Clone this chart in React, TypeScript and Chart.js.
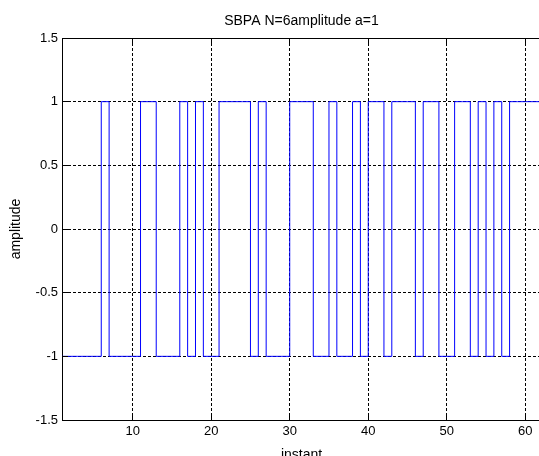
import React, { useEffect, useRef } from "react";
import { Chart, registerables } from "chart.js";

Chart.register(...registerables);

// ---- data ----
const instants = [
  1, 2, 3, 4, 5, 6, 7, 8, 9, 10,
  11, 12, 13, 14, 15, 16, 17, 18, 19, 20,
  21, 22, 23, 24, 25, 26, 27, 28, 29, 30,
  31, 32, 33, 34, 35, 36, 37, 38, 39, 40,
  41, 42, 43, 44, 45, 46, 47, 48, 49, 50,
  51, 52, 53, 54, 55, 56, 57, 58, 59, 60,
  61, 62, 63,
];

const amplitude = [
  -1, -1, -1, -1, -1, 1, -1, -1, -1, -1,
  1, 1, -1, -1, -1, 1, -1, 1, -1, -1,
  1, 1, 1, 1, -1, 1, -1, -1, -1, 1,
  1, 1, -1, -1, 1, -1, -1, 1, -1, 1,
  1, -1, 1, 1, 1, -1, 1, 1, -1, -1,
  1, 1, -1, 1, -1, 1, -1, 1, 1, 1,
  1, 1, 1,
];

const xTickValues = [10, 20, 30, 40, 50, 60];
const yTickValues = [-1.5, -1, -0.5, 0, 0.5, 1, 1.5];
const xRange = [1, 62];
const yRange = [-1.5, 1.5];

const titleText = "SBPA N=6amplitude a=1";
const xLabel = "instant";
const yLabel = "amplitude";

const FONT = "'Liberation Sans', Arial, Helvetica, sans-serif";

const align = (p: number) => Math.round(p - 0.5) + 0.5;

const innerTicks = {
  id: "innerTicks",
  afterDatasetsDraw(chart: any) {
    const { ctx, chartArea: a, scales } = chart;
    const len = 6;
    ctx.save();
    ctx.strokeStyle = "#000";
    ctx.lineWidth = 1;
    ctx.setLineDash([]);
    ctx.beginPath();
    for (const v of xTickValues) {
      const px = align(scales.x.getPixelForValue(v));
      ctx.moveTo(px, a.bottom);
      ctx.lineTo(px, a.bottom - len);
      ctx.moveTo(px, a.top);
      ctx.lineTo(px, a.top + len);
    }
    for (const v of yTickValues) {
      const py = align(scales.y.getPixelForValue(v));
      ctx.moveTo(a.left, py);
      ctx.lineTo(a.left + len, py);
    }
    ctx.stroke();
    ctx.restore();
  },
};

export default function App() {
  const ref = useRef<HTMLCanvasElement | null>(null);

  useEffect(() => {
    if (!ref.current) return;
    const chart = new Chart(ref.current, {
      type: "line",
      data: {
        datasets: [
          {
            data: instants.map((x, i) => ({ x, y: amplitude[i] })),
            borderColor: "#0000ff",
            borderWidth: 1,
            pointRadius: 0,
            stepped: "before",
            fill: false,
            tension: 0,
          },
        ],
      },
      options: {
        responsive: false,
        animation: false,
        events: [],
        layout: { padding: { left: 0, top: 0, right: 4, bottom: 0 } },
        plugins: {
          legend: { display: false },
          tooltip: { enabled: false },
          title: { display: false },
        },
        scales: {
          x: {
            type: "linear",
            position: "bottom",
            min: xRange[0],
            max: xRange[1],
            afterBuildTicks: (s: any) => {
              s.ticks = xTickValues.map((value) => ({ value }));
            },
            afterFit: (s: any) => {
              s.height = 50;
            },
            ticks: {
              padding: 4,
              color: "#000",
              font: { family: FONT, size: 13 },
              maxRotation: 0,
              autoSkip: false,
              callback: (v: any) => String(v),
            },
            grid: { color: "#000", lineWidth: 1, drawTicks: false },
            border: { display: true, color: "#000", width: 1, dash: [3, 2] },
            title: {
              display: true,
              text: xLabel,
              color: "#000",
              font: { family: FONT, size: 14 },
              padding: { top: 0, bottom: 6 },
            },
          },
          x2: {
            type: "linear",
            position: "top",
            min: xRange[0],
            max: xRange[1],
            afterFit: (s: any) => {
              s.height = 38;
            },
            ticks: { display: false },
            grid: { display: false, drawTicks: false },
            border: { display: true, color: "#000", width: 1 },
            title: {
              display: true,
              text: titleText,
              color: "#000",
              font: { family: FONT, size: 14 },
              padding: { top: 12.5, bottom: 0 },
            },
          },
          y: {
            type: "linear",
            position: "left",
            min: yRange[0],
            max: yRange[1],
            afterBuildTicks: (s: any) => {
              s.ticks = yTickValues.map((value) => ({ value }));
            },
            afterFit: (s: any) => {
              s.width = 62;
            },
            ticks: {
              padding: 4,
              color: "#000",
              font: { family: FONT, size: 13 },
              autoSkip: false,
              callback: (v: any) => String(v),
            },
            grid: { color: "#000", lineWidth: 1, drawTicks: false },
            border: { display: true, color: "#000", width: 1, dash: [3, 2] },
            title: {
              display: true,
              text: yLabel,
              color: "#000",
              font: { family: FONT, size: 14 },
              padding: { top: 7.5, bottom: 0 },
            },
          },
        },
      },
      plugins: [innerTicks],
    } as any);
    return () => chart.destroy();
  }, []);

  return (
    <div
      style={{
        position: "fixed",
        left: 0,
        top: 0,
        width: 545,
        height: 470,
        background: "#fff",
      }}
    >
      <canvas ref={ref} width={545} height={470} style={{ display: "block" }} />
    </div>
  );
}
